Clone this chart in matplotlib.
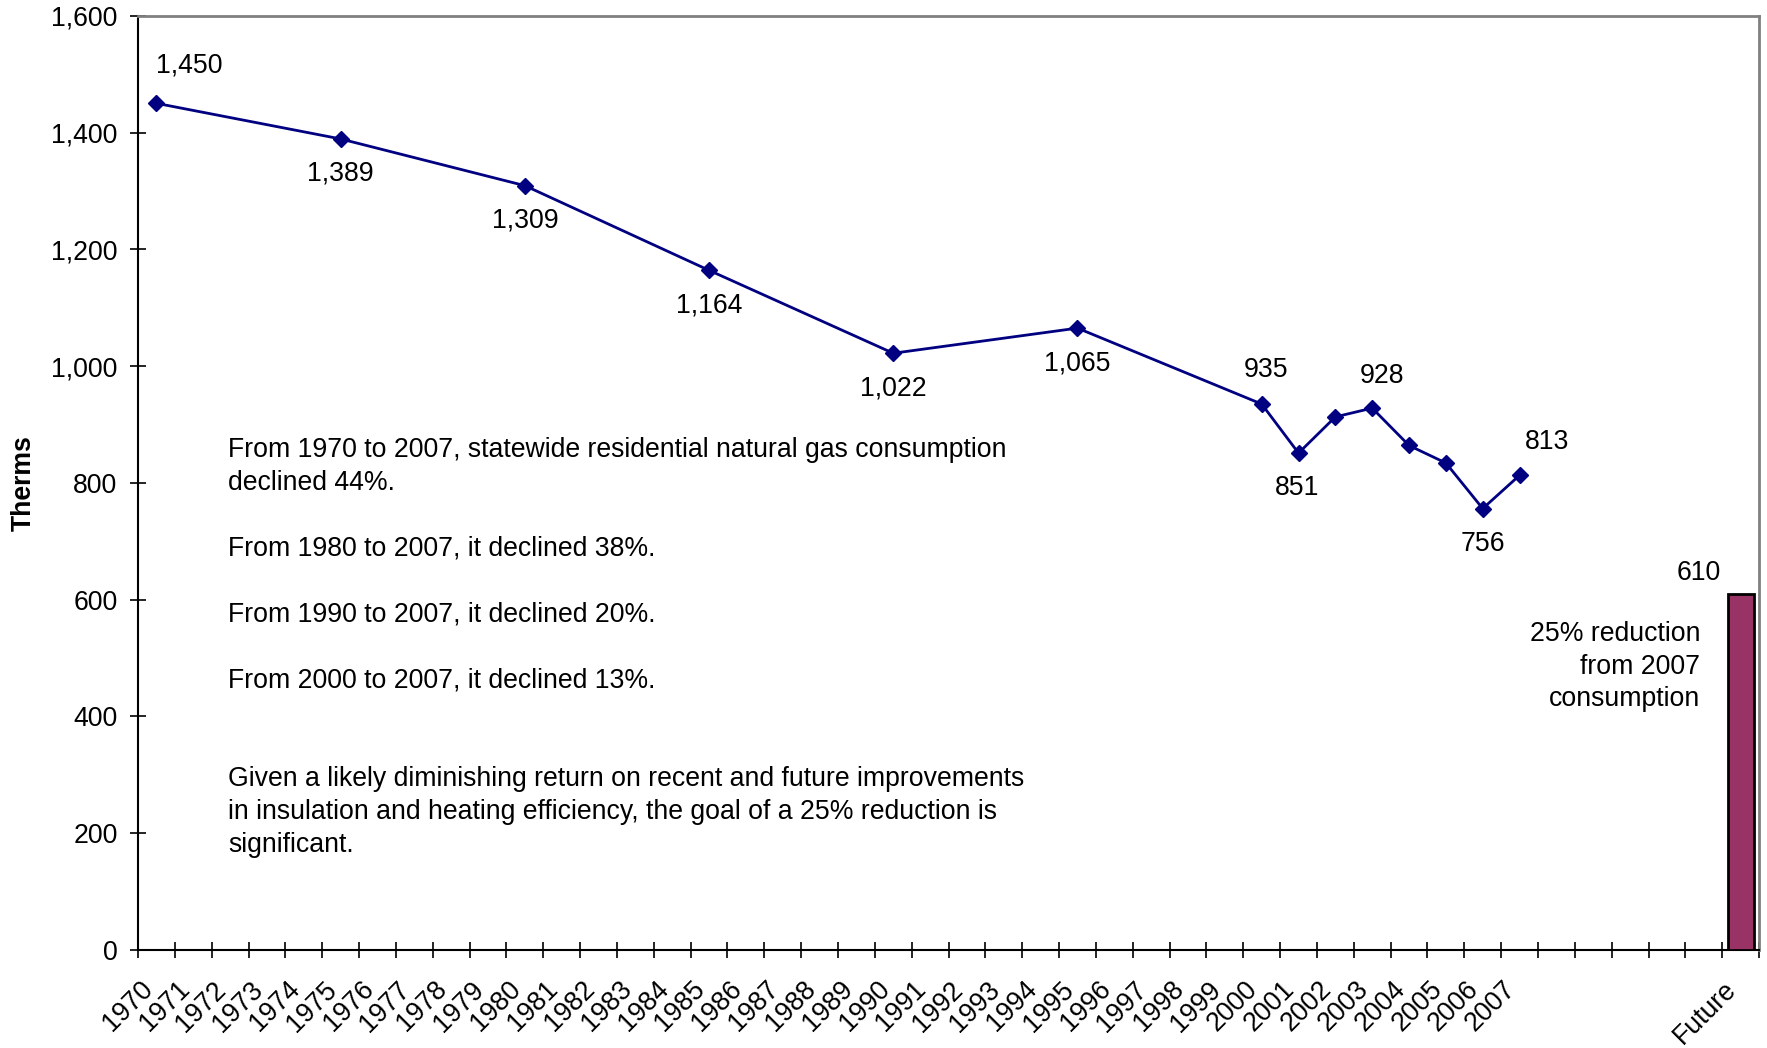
import matplotlib.pyplot as plt
from matplotlib.ticker import FuncFormatter, MultipleLocator
from matplotlib.transforms import ScaledTranslation

plt.rcParams['font.family'] = ['Liberation Sans', 'DejaVu Sans']

# categories on the x axis: every year, a few blank slots, then "Future"
years = list(range(1970, 2008))
n_blank = 5
categories = [str(y) for y in years] + [''] * n_blank + ['Future']

# measured years and therms
data_years = [1970, 1975, 1980, 1985, 1990, 1995,
              2000, 2001, 2002, 2003, 2004, 2005, 2006, 2007]
therms = [1450, 1389, 1309, 1164, 1022, 1065,
          935, 851, 913, 928, 864, 834, 756, 813]

# which points carry a label, and where it sits (offset in pixels)
label_offsets = {
    1970: (33, 38), 1975: (0, -35), 1980: (0, -35), 1985: (0, -35),
    1990: (0, -35), 1995: (0, -35), 2000: (4, 34), 2001: (-1, -35),
    2003: (10, 32), 2006: (0, -35), 2007: (27, 33),
}

future_value = 610

notes = ("From 1970 to 2007, statewide residential natural gas consumption\n"
         "declined 44%.\n\n"
         "From 1980 to 2007, it declined 38%.\n\n"
         "From 1990 to 2007, it declined 20%.\n\n"
         "From 2000 to 2007, it declined 13%.\n\n\n"
         "Given a likely diminishing return on recent and future improvements\n"
         "in insulation and heating efficiency, the goal of a 25% reduction is\n"
         "significant.")
bar_note = "25% reduction\nfrom 2007\nconsumption"

fs = 19.2


def main():
    fig = plt.figure(figsize=(17.67, 10.48), dpi=100)
    ax = fig.add_axes([0.0781, 0.0935, 0.9955 - 0.0781, 0.985 - 0.0935])

    n = len(categories)
    pos = {y: i + 0.5 for i, y in enumerate(years)}
    xs = [pos[y] for y in data_years]

    ax.plot(xs, therms, color='#000080', lw=2, marker='D', ms=8.5,
            markeredgecolor='#000080', zorder=3)

    for y, v in zip(data_years, therms):
        if y in label_offsets:
            ax.annotate(f"{v:,}", (pos[y], v), xytext=label_offsets[y],
                        textcoords='offset pixels', ha='center', va='center',
                        fontsize=fs)

    fx = n - 0.5
    ax.bar([fx], [future_value], width=0.7, color='#993366',
           edgecolor='black', lw=2, zorder=3)
    ax.annotate(f"{future_value:,}", (fx, future_value), xytext=(-42, 21),
                textcoords='offset pixels', ha='center', va='center',
                fontsize=fs)
    ax.text(42.4, 564, bar_note, ha='right', va='top', fontsize=fs,
            linespacing=1.345)

    ax.text(2.45, 879, notes, ha='left', va='top', fontsize=fs,
            linespacing=1.345)

    ax.set_xlim(0, n)
    ax.set_ylim(0, 1600)
    ax.yaxis.set_major_locator(MultipleLocator(200))
    ax.yaxis.set_major_formatter(FuncFormatter(lambda v, p: f"{v:,.0f}"))
    ax.tick_params(axis='y', direction='inout', length=11.5, width=1.2,
                   pad=9, labelsize=fs)

    ax.set_xticks([i + 0.5 for i in range(n)])
    ax.set_xticklabels(categories, rotation=45, ha='right',
                       rotation_mode='anchor', fontsize=fs)
    ax.set_xticks(range(n + 1), minor=True)
    ax.tick_params(axis='x', which='major', length=0, pad=19)
    ax.tick_params(axis='x', which='minor', direction='inout', length=11.5,
                   width=1.2)
    shift = ScaledTranslation(-17 / 100, 0, fig.dpi_scale_trans)
    for lab in ax.get_xticklabels():
        lab.set_transform(lab.get_transform() + shift)

    ax.set_ylabel("Therms", fontsize=fs, fontweight='bold', labelpad=10)

    for side in ('left', 'bottom'):
        ax.spines[side].set_color('black')
        ax.spines[side].set_linewidth(1.5)
    for side in ('top', 'right'):
        ax.spines[side].set_color('#808080')
        ax.spines[side].set_linewidth(2)

    fig.savefig("out.png", dpi=100)


main()
